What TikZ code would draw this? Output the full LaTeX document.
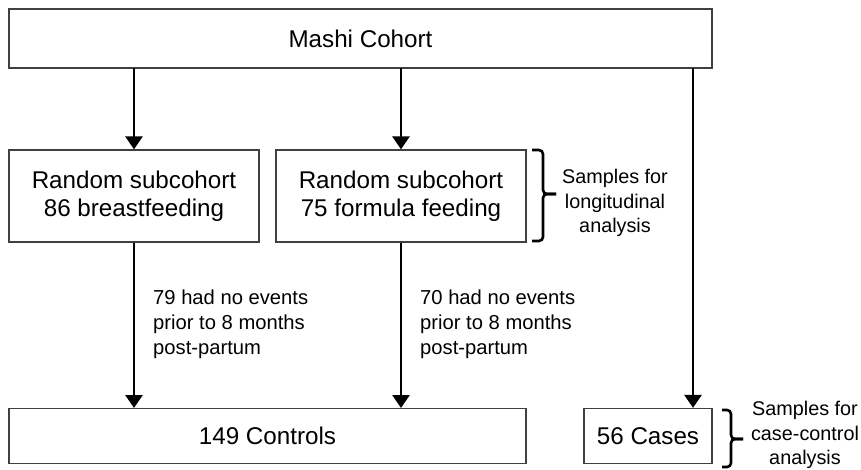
\documentclass[tikz,border=0pt]{standalone}
\usepackage{fontspec}
\setmainfont{Liberation Sans}
\usetikzlibrary{arrows.meta}
\begin{document}
\begin{tikzpicture}[x=1pt,y=-1pt,
  box/.style={draw=black!75,line width=1.3pt,rectangle,inner sep=0pt},
  big/.style={font=\fontsize{24.2}{28.5}\selectfont},
  arr/.style={line width=2.8pt,-{Triangle[length=13pt,width=17pt]}},
  lbl/.style={font=\fontsize{20.2}{25}\selectfont,align=left,anchor=north west,inner sep=0pt},
  side/.style={font=\fontsize{19.8}{24.5}\selectfont,align=center,inner sep=0pt},
  brk/.style={line width=2.6pt,rounded corners=4pt}]
\useasboundingbox (0,0) rectangle (861,469);
\node[box,big,minimum width=703pt,minimum height=59pt] (top) at (360.5,38.5) {Mashi Cohort};
\node[box,big,minimum width=250pt,minimum height=92pt,align=center] (A) at (134,196) {Random subcohort\\86 breastfeeding};
\node[box,big,minimum width=250pt,minimum height=92pt,align=center] (B) at (401,196) {Random subcohort\\75 formula feeding};
\node[box,big,minimum width=517pt,minimum height=55pt] (C) at (267.5,436) {149 Controls};
\node[box,big,minimum width=128pt,minimum height=55pt] (D) at (648,436) {56 Cases};
\coordinate (t1) at (134,68);
\coordinate (t2) at (401,68);
\coordinate (t3) at (693,68);
\coordinate (c1) at (134,408);
\coordinate (c2) at (401,408);
\draw[arr] (t1) -- (A.north);
\draw[arr] (t2) -- (B.north);
\draw[arr] (t3) -- (t3 |- D.north);
\draw[arr] (A.south) -- (c1);
\draw[arr] (B.south) -- (c2);
\node[lbl] (l1) at (153,290) {79 had no events\\prior to 8 months\\post-partum};
\node[lbl] (l2) at (420,290) {70 had no events\\prior to 8 months\\post-partum};
% bracket 1
\coordinate (b1t) at (532,150);
\coordinate (b1b) at (532,241);
\coordinate (b1m) at (543,194);
\coordinate (b1x) at (556,194);
\draw[brk] (b1t) -| (b1m) -- (b1x);
\draw[brk] (b1b) -| (b1m) -- (b1x);
\node[side] (s1) at (615,203) {Samples for\\longitudinal\\analysis};
% bracket 2
\coordinate (b2t) at (722,410);
\coordinate (b2b) at (722,467);
\coordinate (b2m) at (731,439);
\coordinate (b2x) at (743,439);
\draw[brk] (b2t) -| (b2m) -- (b2x);
\draw[brk] (b2b) -| (b2m) -- (b2x);
\node[side] (s2) at (805,435) {Samples for\\case-control\\analysis};
\end{tikzpicture}
\end{document}
